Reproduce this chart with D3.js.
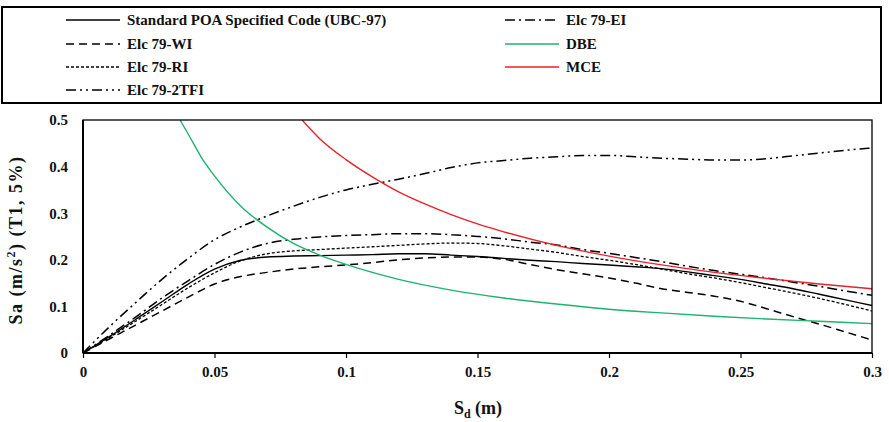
<!DOCTYPE html>
<html><head><meta charset="utf-8">
<script src="https://cdn.jsdelivr.net/npm/d3@7"></script>
<style>body{margin:0;background:#fff}svg{display:block}text{font-family:"Liberation Serif","Times New Roman",serif;font-weight:bold;fill:#111}</style>
</head><body>
<svg id="c" width="889" height="422"></svg>
<script>
const xGrid = [0,0.01,0.02,0.03,0.04,0.05,0.06,0.07,0.08,0.09,0.1,0.11,0.12,0.13,0.14,0.15,0.16,0.17,0.18,0.19,0.2,0.21,0.22,0.23,0.24,0.25,0.26,0.27,0.28,0.29,0.3];
const standardPOA = [0,0.035,0.072,0.11,0.148,0.18,0.199,0.206,0.208,0.209,0.21,0.211,0.213,0.213,0.21,0.207,0.203,0.199,0.196,0.192,0.189,0.185,0.181,0.174,0.166,0.158,0.148,0.138,0.126,0.114,0.102];
const elcWI = [0,0.03,0.06,0.09,0.12,0.148,0.164,0.173,0.18,0.185,0.189,0.194,0.2,0.204,0.206,0.206,0.201,0.19,0.179,0.17,0.161,0.15,0.138,0.13,0.122,0.111,0.095,0.078,0.062,0.045,0.028];
const elcRI = [0,0.033,0.068,0.104,0.14,0.172,0.198,0.213,0.219,0.222,0.225,0.228,0.231,0.234,0.236,0.235,0.23,0.223,0.216,0.207,0.199,0.19,0.18,0.17,0.161,0.151,0.14,0.129,0.117,0.104,0.09];
const elc2TFI = [0,0.056,0.108,0.158,0.203,0.243,0.271,0.294,0.315,0.334,0.35,0.362,0.373,0.385,0.398,0.408,0.413,0.418,0.421,0.424,0.424,0.421,0.418,0.416,0.414,0.414,0.417,0.423,0.429,0.435,0.44];
const elcEI = [0,0.038,0.077,0.118,0.155,0.19,0.217,0.235,0.244,0.249,0.252,0.254,0.256,0.256,0.254,0.25,0.245,0.238,0.232,0.222,0.214,0.205,0.196,0.186,0.177,0.169,0.161,0.152,0.143,0.133,0.124];
const dbeX = [0.0369,0.04,0.045,0.05,0.06,0.07,0.08,0.09,0.1,0.12,0.14,0.16,0.18,0.2,0.22,0.24,0.26,0.28,0.3];
const dbeY = [0.5,0.47,0.42,0.38,0.315,0.27,0.235,0.21,0.19,0.158,0.135,0.118,0.105,0.094,0.086,0.079,0.073,0.068,0.063];
const mceX = [0.0833,0.09,0.1,0.11,0.12,0.13,0.14,0.15,0.16,0.18,0.2,0.22,0.24,0.26,0.28,0.3];
const mceY = [0.5,0.46,0.415,0.378,0.346,0.32,0.297,0.277,0.26,0.231,0.208,0.189,0.173,0.16,0.148,0.138];
const xTicks = [0,0.05,0.1,0.15,0.2,0.25,0.3];
const xTickLabels = ["0","0.05","0.1","0.15","0.2","0.25","0.3"];
const yTicks = [0,0.1,0.2,0.3,0.4,0.5];
const yTickLabels = ["0","0.1","0.2","0.3","0.4","0.5"];

const svg = d3.select("#c");
const x = d3.scaleLinear().domain([0,0.3]).range([83,872]);
const y = d3.scaleLinear().domain([0,0.5]).range([353,120]);

const series = [
  {name:"Standard POA Specified Code (UBC-97)", xs:xGrid, ys:standardPOA, color:"#000", dash:null, w:1.4},
  {name:"Elc 79-WI", xs:xGrid, ys:elcWI, color:"#000", dash:"8,5", w:1.5},
  {name:"Elc 79-RI", xs:xGrid, ys:elcRI, color:"#000", dash:"3,2", w:1.3},
  {name:"Elc 79-2TFI", xs:xGrid, ys:elc2TFI, color:"#000", dash:"10,4,2,4,2,4", w:1.5},
  {name:"Elc 79-EI", xs:xGrid, ys:elcEI, color:"#000", dash:"10,4,2,4", w:1.5},
  {name:"DBE", xs:dbeX, ys:dbeY, color:"#1db36e", dash:null, w:1.4},
  {name:"MCE", xs:mceX, ys:mceY, color:"#e8212a", dash:null, w:1.4}
];

svg.append("clipPath").attr("id","clip").append("rect").attr("x",83).attr("y",120).attr("width",789).attr("height",233);

const line = d3.line().x(d=>x(d[0])).y(d=>y(d[1])).curve(d3.curveMonotoneX);
const g = svg.append("g").attr("clip-path","url(#clip)");
series.forEach(s=>{
  g.append("path").datum(s.xs.map((v,i)=>[v,s.ys[i]]))
   .attr("d",line).attr("fill","none").attr("stroke",s.color)
   .attr("stroke-width",s.w).attr("stroke-dasharray",s.dash);
});

svg.append("rect").attr("x",83).attr("y",120).attr("width",789).attr("height",233)
  .attr("fill","none").attr("stroke","#000").attr("stroke-width",1.3);
svg.append("line").attr("x1",83).attr("x2",872).attr("y1",353).attr("y2",353).attr("stroke","#000").attr("stroke-width",2.2);
svg.append("line").attr("x1",83).attr("x2",83).attr("y1",120).attr("y2",353).attr("stroke","#000").attr("stroke-width",2);

const xa = svg.append("g").attr("transform","translate(0,353)")
  .call(d3.axisBottom(x).tickValues(xTicks).tickFormat((d,i)=>xTickLabels[i]).tickSize(5).tickPadding(8));
xa.select(".domain").remove();
xa.selectAll("line").attr("stroke","#000").attr("stroke-width",1.2);
xa.selectAll("text").style("font-family","'Liberation Serif',serif").style("font-weight","bold").style("font-size","15px").attr("fill","#111");

const ya = svg.append("g").attr("transform","translate(83,0)")
  .call(d3.axisLeft(y).tickValues(yTicks).tickFormat((d,i)=>yTickLabels[i]).tickSize(0).tickPadding(15));
ya.select(".domain").remove();
ya.selectAll("text").style("font-family","'Liberation Serif',serif").style("font-weight","bold").style("font-size","15px").attr("fill","#111");

const xt = svg.append("text").attr("x",478).attr("y",414).attr("text-anchor","middle").style("font-size","18px");
xt.append("tspan").text("S");
xt.append("tspan").attr("dy",4).style("font-size","12px").text("d");
xt.append("tspan").attr("dy",-4).text(" (m)");

const yt = svg.append("text").attr("transform","translate(22,240) rotate(-90)").attr("text-anchor","middle").style("font-size","18px").style("letter-spacing","1.5px");
yt.append("tspan").text("Sa (m/s");
yt.append("tspan").attr("dy",-7).style("font-size","12px").text("2");
yt.append("tspan").attr("dy",7).text(") (T1, 5%)");

svg.append("rect").attr("x",2).attr("y",7).attr("width",879).attr("height",96)
  .attr("fill","none").attr("stroke","#000").attr("stroke-width",2);
const legPos = [[66,20],[66,44],[66,67],[66,90],[505,20],[505,44],[505,67]];
series.forEach((s,i)=>{
  const [lx,ly] = legPos[i];
  svg.append("line").attr("x1",lx).attr("x2",lx+54).attr("y1",ly).attr("y2",ly)
    .attr("stroke",s.color).attr("stroke-width",s.w).attr("stroke-dasharray",s.dash);
  svg.append("text").attr("x",lx+61).attr("y",ly+5).style("font-size","15px").text(s.name);
});
</script>
</body></html>
